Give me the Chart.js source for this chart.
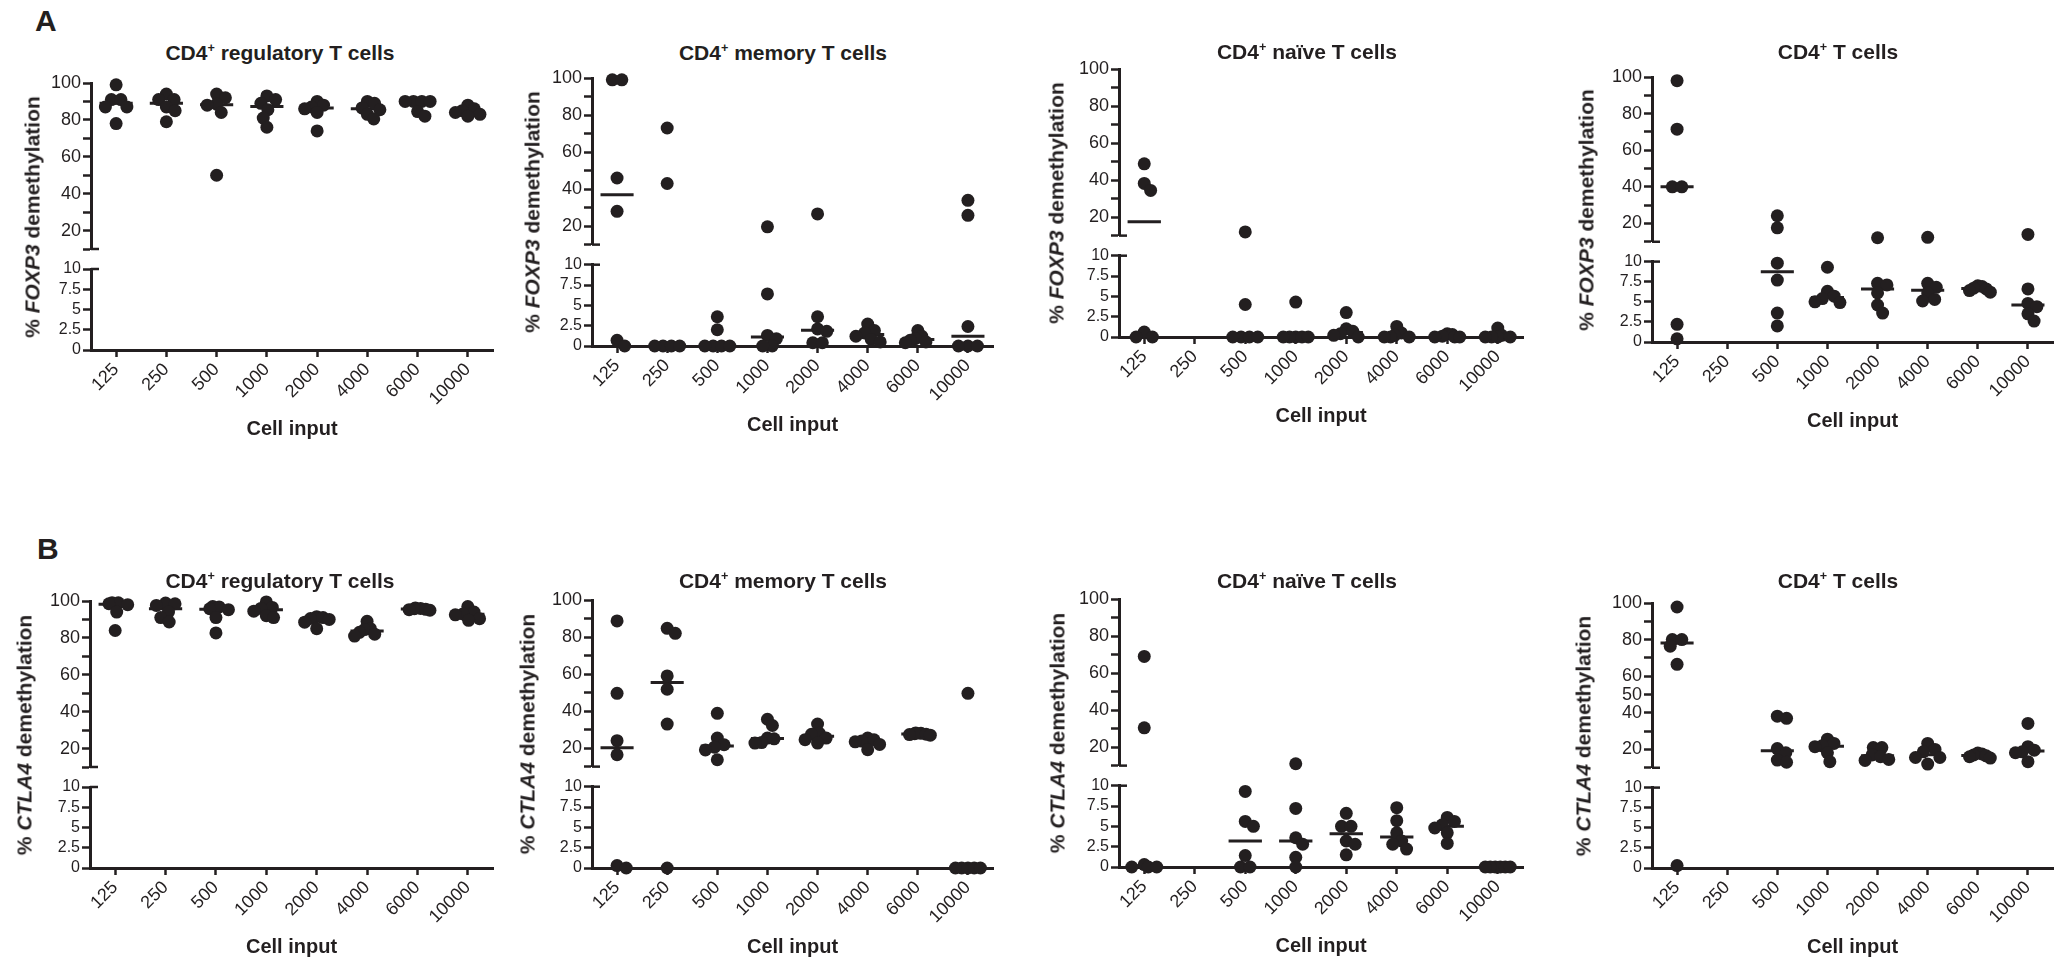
<!DOCTYPE html>
<html>
<head>
<meta charset="utf-8">
<title>FOXP3 / CTLA4 demethylation by cell input</title>
<script src="https://cdn.jsdelivr.net/npm/chart.js@4.4.1/dist/chart.umd.min.js"></script>
<style>
  body { margin: 0; background: #fff; width: 2065px; height: 966px; position: relative; overflow: hidden;
         font-family: "Liberation Sans", Arial, sans-serif; color: #231f20; }
  .panel { position: absolute; }
  .ttl { position: absolute; transform: translate(-50%, -50%); font-weight: bold; font-size: 21px; line-height: 1; white-space: nowrap; }
  .ttl sup { font-size: 0.6em; vertical-align: 0.6em; line-height: 0; }
  .ytl { position: absolute; transform: translate(-50%, -50%) rotate(-90deg); font-weight: bold; font-size: 21px; line-height: 1; white-space: nowrap; }
  .letter { position: absolute; font-weight: bold; font-size: 30px; line-height: 1; }
</style>
</head>
<body>
<div class="letter" style="left:35px;top:6px">A</div>
<div class="letter" style="left:37px;top:534px">B</div>
<script>
const ink = '#231f20';

const cellInput = ['125', '250', '500', '1000', '2000', '4000', '6000', '10000'];
const upperTicks = [10, 20, 30, 40, 50, 60, 70, 80, 90, 100];
const upperLabels = [20, 40, 60, 80, 100];
const upperLabelsB4 = [20, 40, 50, 60, 80, 100];
const lowerTicks = [0, 2.5, 5, 7.5, 10];

// % demethylation, one list per cell input (125 ... 10000)
const foxp3Treg = [
  [99, 91, 91, 87, 87, 78], [94, 91, 91, 87, 85, 79], [94, 92, 88.5, 88, 84, 50], [93, 91, 89, 85.5, 81, 76],
  [90, 88, 87, 86, 84, 74], [90, 89, 86.5, 85.5, 83, 80.5], [90, 90, 90, 90, 84.5, 82], [88, 86, 85, 84, 83, 82]
];
const foxp3Memory = [
  [99, 99, 46, 28, 0.7, 0], [73, 43, 0, 0, 0, 0], [3.6, 2.0, 0, 0, 0, 0], [19.6, 6.4, 1.3, 0.9, 0, 0],
  [26.6, 3.6, 2.1, 1.8, 0.4, 0.4], [2.7, 1.9, 1.6, 1.2, 0.8, 0.5], [1.9, 1.2, 0.9, 0.7, 0.5, 0.4], [33.9, 25.8, 2.4, 0, 0, 0]
];
const foxp3Naive = [
  [48.8, 38.2, 34.4, 0.6, 0, 0], [], [12, 4.0, 0, 0, 0, 0], [4.3, 0, 0, 0, 0, 0],
  [3.0, 1.0, 0.7, 0.4, 0.2, 0], [1.3, 0.5, 0.2, 0, 0, 0], [0.4, 0.3, 0.1, 0, 0, 0], [1.1, 0.2, 0, 0, 0, 0]
];
const foxp3Cd4 = [
  [98, 71.5, 40, 40, 2.2, 0.4], [], [24.2, 17.6, 9.8, 7.7, 3.6, 2.0], [9.3, 6.3, 5.7, 5.4, 5.0, 4.9],
  [12.2, 7.3, 7.1, 6.1, 4.6, 3.6], [12.4, 7.3, 6.8, 6.1, 5.3, 5.1], [7.0, 6.9, 6.7, 6.6, 6.4, 6.2], [14, 6.6, 4.8, 4.4, 3.5, 2.6]
];
const ctla4Treg = [
  [99, 99, 98.5, 98, 94, 84], [98.9, 98.5, 97.6, 94, 91, 88.6], [97, 96.8, 95.8, 95.3, 91, 82.7], [99.5, 96.5, 96, 94.5, 92, 91],
  [91.5, 91, 90.5, 90, 88.5, 85], [89, 85, 84.5, 83, 82, 81], [96.2, 96, 95.8, 95.5, 95.3, 95], [97, 94, 93, 92.5, 90.4, 89.5]
];
const ctla4Memory = [
  [88.7, 49.6, 24, 16.4, 0.3, 0], [84.7, 82, 59, 51.8, 33, 0], [38.8, 25.4, 21.8, 20.5, 19, 13.7], [35.6, 32.2, 25.4, 25, 23, 22.7],
  [33, 28, 27.5, 25.4, 24.5, 22.7], [25.4, 24.5, 23.8, 23.4, 22, 19.1], [28.2, 28, 27.8, 27.5, 27.3, 27], [49.6, 0, 0, 0, 0, 0]
];
const ctla4Naive = [
  [69, 30.4, 0.3, 0, 0, 0], [], [9.3, 5.6, 5.0, 1.4, 0, 0], [11, 7.2, 3.6, 2.8, 1.2, 0],
  [6.6, 5.0, 5.0, 3.2, 2.8, 1.5], [7.3, 5.7, 4.2, 3.2, 2.8, 2.2], [6.1, 5.6, 5.2, 4.8, 4.2, 2.9], [0, 0, 0, 0, 0, 0]
];
const ctla4Cd4 = [
  [97.8, 80, 80, 76.4, 66.5, 0.3], [], [38.2, 37, 20.5, 18.2, 14.2, 13], [25.6, 23.3, 22, 21.5, 18.2, 13.3],
  [21, 21, 17, 16, 14.5, 14], [23.3, 20, 18.7, 15.6, 15.6, 12], [18, 17.5, 17, 16.5, 16, 15.3], [34.2, 21.5, 19.6, 18.7, 18.2, 13.3]
];

// area = plot box on the page [left, top, right, bottom]
const panels = [
  { data: foxp3Treg,   gene: 'FOXP3', cells: 'regulatory T cells', area: [91, 83, 493, 350],    head: [280, 52],  yTitleX: 32,   labels: upperLabels },
  { data: foxp3Memory, gene: 'FOXP3', cells: 'memory T cells',     area: [592, 78, 993, 346],   head: [783, 52],  yTitleX: 532,  labels: upperLabels },
  { data: foxp3Naive,  gene: 'FOXP3', cells: 'naïve T cells',      area: [1119, 69, 1523, 337], head: [1307, 51], yTitleX: 1056, labels: upperLabels },
  { data: foxp3Cd4,    gene: 'FOXP3', cells: 'T cells',            area: [1652, 77, 2053, 342], head: [1838, 51], yTitleX: 1586, labels: upperLabels },
  { data: ctla4Treg,   gene: 'CTLA4', cells: 'regulatory T cells', area: [90, 601, 493, 868],   head: [280, 580], yTitleX: 24,   labels: upperLabels },
  { data: ctla4Memory, gene: 'CTLA4', cells: 'memory T cells',     area: [592, 600, 993, 868],  head: [783, 580], yTitleX: 527,  labels: upperLabels },
  { data: ctla4Naive,  gene: 'CTLA4', cells: 'naïve T cells',      area: [1119, 599, 1523, 867], head: [1307, 580], yTitleX: 1057, labels: upperLabels },
  { data: ctla4Cd4,    gene: 'CTLA4', cells: 'T cells',            area: [1652, 603, 2053, 868], head: [1838, 580], yTitleX: 1583, labels: upperLabelsB4 }
];

Chart.defaults.font.family = '"Liberation Sans", Arial, sans-serif';
Chart.defaults.color = ink;

function median(vals) {
  const s = [...vals].sort((a, b) => a - b);
  const m = s.length >> 1;
  return s.length % 2 ? s[m] : (s[m - 1] + s[m]) / 2;
}

function buildDatasets(groups) {
  const upper = [], lower = [], medUp = [], medLow = [];
  groups.forEach((vals, i) => {
    vals.forEach(v => (v >= 10 ? upper : lower).push({ x: i, y: v, g: i }));
    if (!vals.length) return;
    const m = median(vals);
    (m >= 10 ? medUp : medLow).push({ x: i - 0.33, y: m }, { x: i + 0.33, y: m }, { x: i, y: null });
  });
  const dot = { pointRadius: 6.5, pointHoverRadius: 6.5, pointBackgroundColor: ink, pointBorderWidth: 0, showLine: false, clip: false };
  const bar = { showLine: true, pointRadius: 0, borderColor: ink, borderWidth: 3, clip: false, spanGaps: false };
  return [
    { ...dot, data: upper, yAxisID: 'yTop' },
    { ...dot, data: lower, yAxisID: 'yBot' },
    { ...bar, data: medUp, yAxisID: 'yTop' },
    { ...bar, data: medLow, yAxisID: 'yBot' }
  ];
}

// simple beeswarm in pixel space: keep dots at least `gap` apart,
// then squeeze the column so it never gets wider than +/- maxHalf
function swarm(ys, gap, maxHalf) {
  const placed = [];
  const xs = [];
  const order = ys.map((_, i) => i).sort((a, b) => ys[a] - ys[b]);
  for (const i of order) {
    const y = ys[i];
    const cands = [0];
    placed.forEach(p => {
      const dy = Math.abs(y - p.y);
      if (dy < gap) {
        const dx = Math.sqrt(gap * gap - dy * dy);
        cands.push(p.x + dx, p.x - dx);
      }
    });
    cands.sort((a, b) => Math.abs(a) - Math.abs(b));
    let x = cands.find(c => placed.every(p => Math.hypot(p.x - c, p.y - y) >= gap - 0.01));
    if (x === undefined) x = Math.max(...placed.map(p => p.x)) + gap;
    placed.push({ x, y });
    xs[i] = x;
  }
  // centre rows of equal values
  const done = new Set();
  ys.forEach((y, i) => {
    if (done.has(i)) return;
    const row = ys.map((yy, j) => j).filter(j => Math.abs(ys[j] - y) < 0.5);
    row.forEach(j => done.add(j));
    if (row.length < 2) return;
    const lo = Math.min(...row.map(j => xs[j])), hi = Math.max(...row.map(j => xs[j]));
    row.forEach(j => { xs[j] -= (lo + hi) / 2; });
  });
  const widest = Math.max(0, ...xs.map(Math.abs));
  if (widest > maxHalf) xs.forEach((x, j) => { xs[j] = x * maxHalf / widest; });
  return xs;
}

function spread(chart, groups) {
  const xs = chart.scales.x;
  const unit = xs.getPixelForValue(1) - xs.getPixelForValue(0);
  const dotSets = chart.data.datasets.slice(0, 2);
  const pts = [];
  dotSets.forEach(ds => ds.data.forEach(p => pts.push({ p, py: chart.scales[ds.yAxisID].getPixelForValue(p.y) })));
  groups.forEach((_, g) => {
    const mine = pts.filter(o => o.p.g === g);
    const off = swarm(mine.map(o => o.py), 9.5, 12.5);
    mine.forEach((o, k) => { o.p.x = g + off[k] / unit; });
  });
  dotSets.forEach(ds => { ds.data = ds.data.map(p => ({ ...p })); });
  chart.update('none');
}

// little caps where the y axis is broken
const breakCaps = {
  id: 'breakCaps',
  afterDraw(chart) {
    const ctx = chart.ctx;
    const left = chart.chartArea.left;
    ctx.save();
    ctx.strokeStyle = ink;
    ctx.lineWidth = 2.5;
    ['yTop', 'yBot'].forEach(id => {
      const y = chart.scales[id].getPixelForValue(10);
      ctx.beginPath();
      ctx.moveTo(left, y);
      ctx.lineTo(left + 8, y);
      ctx.stroke();
    });
    ctx.restore();
  }
};

function yScale(extra) {
  return Object.assign({
    type: 'linear',
    position: 'left',
    stack: 'left',
    grid: { drawOnChartArea: false, drawTicks: true, tickLength: 8, tickWidth: 2.5, color: ink, tickColor: ink },
    border: { color: ink, width: 3 },
    afterFit: s => { s.width = 60; }
  }, extra);
}

panels.forEach(pn => {
  const [L, T, R, B] = pn.area;
  const box = document.createElement('div');
  box.className = 'panel';
  box.style.left = (L - 60) + 'px';
  box.style.top = (T - 14) + 'px';
  const cv = document.createElement('canvas');
  cv.width = R - L + 72;
  cv.height = B - T + 110;
  box.appendChild(cv);
  document.body.appendChild(box);

  const head = document.createElement('div');
  head.className = 'ttl';
  head.style.left = pn.head[0] + 'px';
  head.style.top = pn.head[1] + 'px';
  head.innerHTML = 'CD4<sup>+</sup> ' + pn.cells;
  document.body.appendChild(head);

  const yt = document.createElement('div');
  yt.className = 'ytl';
  yt.style.left = pn.yTitleX + 'px';
  yt.style.top = ((T + B) / 2) + 'px';
  yt.innerHTML = '% <i>' + pn.gene + '</i> demethylation';
  document.body.appendChild(yt);

  const chart = new Chart(cv, {
    type: 'scatter',
    data: { datasets: buildDatasets(pn.data) },
    options: {
      responsive: false,
      animation: false,
      devicePixelRatio: 1,
      events: [],
      layout: { padding: { left: 0, top: 14, right: 12, bottom: 0 } },
      plugins: { legend: { display: false }, tooltip: { enabled: false } },
      scales: {
        yBot: yScale({
          min: 0, max: 10, stackWeight: 81,
          afterBuildTicks: s => { s.ticks = lowerTicks.map(v => ({ value: v })); },
          ticks: { autoSkip: false, font: { size: 16 }, color: ink, padding: 2 }
        }),
        yGap: yScale({
          min: 0, max: 1, stackWeight: 20,
          grid: { display: false },
          border: { display: false },
          ticks: { display: false }
        }),
        yTop: yScale({
          min: 10, max: 100, stackWeight: 166,
          afterBuildTicks: s => { s.ticks = upperTicks.map(v => ({ value: v })); },
          ticks: { autoSkip: false, font: { size: 18 }, color: ink, padding: 2, callback: v => (pn.labels.includes(v) ? String(v) : '') }
        }),
        x: {
          type: 'linear',
          min: -0.5, max: 7.5,
          afterBuildTicks: s => { s.ticks = cellInput.map((c, i) => ({ value: i })); },
          ticks: { callback: v => cellInput[v], minRotation: 45, maxRotation: 45, autoSkip: false, font: { size: 18 }, color: ink, padding: 2 },
          grid: { drawOnChartArea: false, drawTicks: true, tickLength: 7, tickWidth: 2.5, color: ink, tickColor: ink },
          border: { color: ink, width: 3 },
          title: { display: true, text: 'Cell input', font: { size: 20, weight: 'bold' }, color: ink, padding: { top: 2, bottom: 5 } },
          afterFit: s => { s.height = 96; }
        }
      }
    },
    plugins: [breakCaps]
  });
  spread(chart, pn.data);
});
</script>
</body>
</html>
